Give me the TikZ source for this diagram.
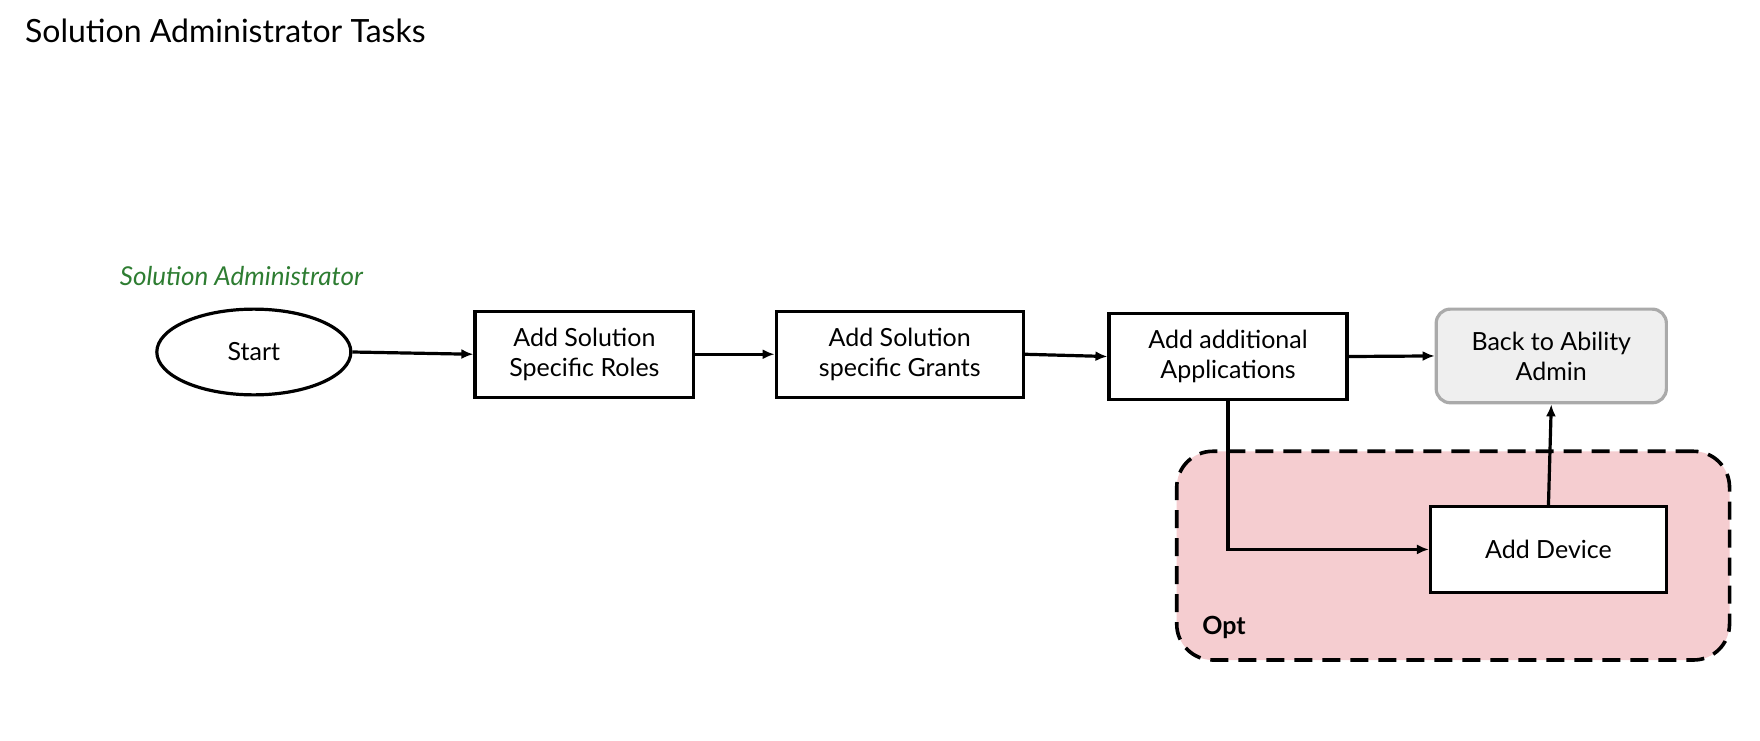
\documentclass[tikz,border=0pt]{standalone}
\usepackage{fontspec}
\setmainfont{Lato}
\usetikzlibrary{shapes.geometric,arrows.meta}
\begin{document}
\begin{tikzpicture}[x=0.564pt,y=-0.564pt,
  box/.style={draw,line width=1.6pt,fill=white,align=center,font=\fontsize{12.5}{15}\selectfont,inner sep=0pt},
  arr/.style={line width=1.6pt,-{Latex[length=6pt,width=5pt]}}]
\useasboundingbox (0,0) rectangle (1560,656);
\node[anchor=west,font=\fontsize{16}{19}\selectfont] (title) at (16,27) {Solution Administrator Tasks};
\node[anchor=west,font=\fontsize{13}{16}\selectfont\itshape,text={rgb,255:red,46;green,125;blue,50}] (role) at (100,245) {Solution Administrator};
\node[draw,dashed,line width=1.8pt,dash pattern=on 9pt off 5pt,rounded corners=18pt,fill={rgb,255:red,245;green,205;blue,208},minimum width=490*0.564pt,minimum height=185*0.564pt] (opt) at (1288,492.5) {};
\node[font=\fontsize{12.5}{15}\selectfont\bfseries] (optl) at (1085,556) {Opt};
\node[draw,ellipse,line width=1.6pt,minimum width=172*0.564pt,minimum height=76*0.564pt,font=\fontsize{12.5}{15}\selectfont] (start) at (225,312) {Start};
\node[box,minimum width=194*0.564pt,minimum height=76*0.564pt] (b1) at (518,314) {Add Solution\\Specific Roles};
\node[box,minimum width=219*0.564pt,minimum height=76*0.564pt] (b2) at (797.5,314) {Add Solution\\specific Grants};
\node[box,minimum width=211*0.564pt,minimum height=76*0.564pt] (b3) at (1088.5,316) {Add additional\\Applications};
\node[box,draw={rgb,255:red,170;green,170;blue,170},fill={rgb,255:red,239;green,239;blue,239},rounded corners=7pt,minimum width=204*0.564pt,minimum height=83*0.564pt] (back) at (1375,315.5) {Back to Ability\\Admin};
\node[box,minimum width=209*0.564pt,minimum height=76*0.564pt] (dev) at (1372.5,487) {Add Device};
\draw[arr] (start.east) -- (b1.west);
\draw[arr] (b1.east) -- (b2.west);
\draw[arr] (b2.east) -- (b3.west);
\draw[arr] (b3.east) -- (back.west);
\draw[arr] (b3.south) |- (dev.west);
\draw[arr] (dev.north) -- (back.south);
\end{tikzpicture}
\end{document}
